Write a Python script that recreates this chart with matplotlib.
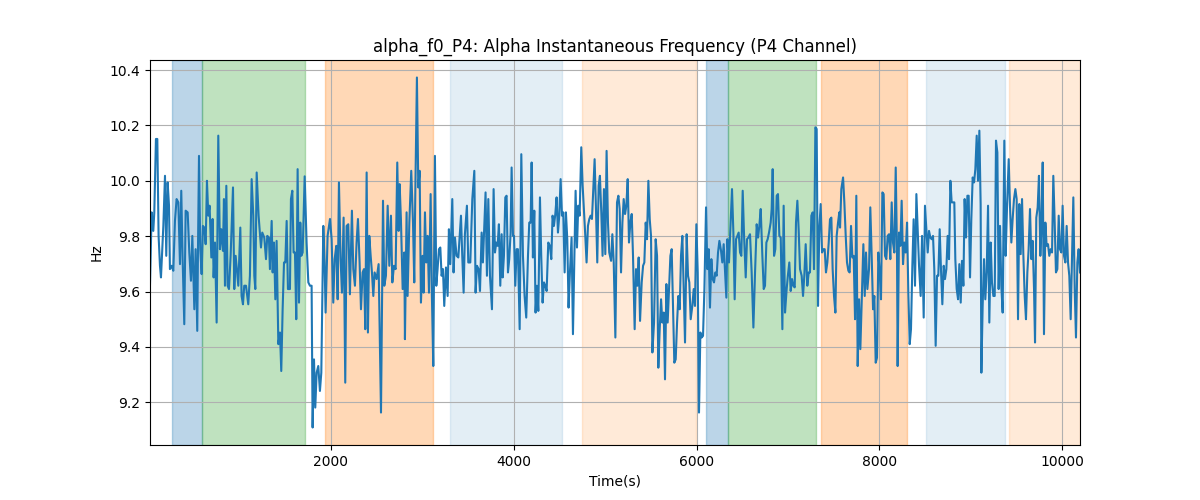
import matplotlib
matplotlib.use("Agg")
import matplotlib.pyplot as plt

# Data (time in seconds, frequency in Hz)
time_s = [20, 38, 56, 67, 85, 100, 114, 129, 140, 166, 184, 198, 213, 228, 238, 257, 275, 293, 311, 330,
          348, 362, 377, 395, 410, 432, 450, 468, 483, 505, 519, 537, 545, 556, 570, 585, 599, 614, 629, 643,
          658, 672, 691, 705, 716, 731, 749, 767, 785, 800, 818, 829, 840, 855, 869, 884, 902, 928, 942, 957,
          986, 1008, 1022, 1037, 1051, 1070, 1095, 1113, 1132, 1150, 1161, 1172, 1187, 1208, 1234, 1248, 1270,
          1289, 1303, 1321, 1332, 1351, 1362, 1376, 1391, 1405, 1424, 1442, 1456, 1471, 1486, 1500, 1515, 1529,
          1551, 1562, 1577, 1591, 1606, 1620, 1635, 1650, 1664, 1675, 1690, 1712, 1733, 1752, 1770, 1788, 1799,
          1814, 1828, 1843, 1861, 1879, 1894, 1916, 1930, 1941, 1963, 1989, 2007, 2025, 2040, 2058, 2073, 2087,
          2105, 2120, 2138, 2156, 2171, 2189, 2207, 2229, 2244, 2262, 2280, 2295, 2313, 2328, 2346, 2361, 2375,
          2390, 2404, 2419, 2434, 2448, 2463, 2477, 2499, 2521,
          2547, 2569, 2583, 2601, 2620, 2638, 2656, 2671, 2689, 2707, 2725, 2740, 2751, 2765, 2784, 2802, 2809,
          2827, 2838, 2857, 2878, 2897, 2911, 2922, 2940, 2955, 2970, 2984, 3002, 3013, 3028, 3042, 3057, 3072,
          3090, 3104, 3119, 3137, 3152, 3166, 3181, 3196, 3210, 3225, 3239, 3258, 3276, 3290, 3305, 3327, 3341,
          3356, 3374, 3393, 3422, 3436, 3451, 3465, 3487, 3502, 3524, 3546, 3568, 3582, 3597, 3615, 3630, 3648,
          3662, 3677, 3691, 3706, 3721, 3739, 3761, 3779,
          3794, 3808, 3823, 3837, 3852, 3867, 3878, 3892, 3907, 3921, 3936, 3950, 3965, 3976, 3991, 4002, 4016,
          4031, 4045, 4064, 4082, 4100, 4118, 4136, 4155, 4169, 4184, 4195, 4209, 4224, 4238, 4253, 4268, 4286,
          4300, 4315, 4330, 4344, 4359, 4377, 4395, 4410, 4424, 4439, 4454, 4468, 4483, 4497, 4512, 4527, 4541,
          4556, 4570, 4585, 4599, 4614, 4632, 4647, 4661, 4676, 4691, 4705, 4720, 4738, 4753, 4767, 4782, 4796,
          4811, 4826, 4840, 4855, 4869, 4884, 4898, 4913, 4928, 4942, 4957, 4971, 4986, 5001, 5015, 5030, 5044,
          5064, 5078, 5093, 5111, 5129, 5144, 5158, 5173, 5188, 5202, 5217, 5231, 5246, 5260, 5275, 5290, 5304,
          5322, 5337, 5352, 5366, 5381, 5399, 5414, 5428, 5443, 5457, 5472, 5487, 5501, 5516, 5534, 5552, 5567,
          5581, 5596, 5611, 5625, 5640, 5654, 5669, 5683, 5698, 5713, 5727, 5742, 5756, 5771, 5786, 5800, 5815,
          5829, 5844, 5858, 5873, 5891, 5906, 5920, 5935, 5953, 5968, 5982, 5997, 6012, 6026, 6041, 6055, 6070,
          6085, 6103, 6117, 6132, 6146, 6161, 6176, 6190, 6205, 6219, 6234, 6249, 6267, 6281, 6296,
          6311, 6325, 6336, 6354, 6373, 6387, 6402, 6416, 6431, 6446, 6460, 6475, 6489, 6504, 6519, 6537, 6551,
          6566, 6584, 6602, 6621, 6639, 6657, 6672, 6686, 6701, 6719, 6734, 6748, 6763, 6777, 6792, 6810, 6821,
          6832, 6847, 6861, 6876, 6890, 6905, 6920, 6938, 6952, 6967, 6985, 6998, 7014, 7029, 7044, 7058, 7073,
          7087, 7102, 7116, 7131, 7149, 7164, 7178, 7193, 7211, 7226, 7240, 7255, 7270, 7284, 7299, 7313, 7328,
          7342, 7357, 7372, 7386, 7401, 7415, 7430, 7445, 7459, 7474, 7488, 7503, 7518, 7532, 7547, 7561,
          7569, 7583, 7602, 7616, 7631, 7645, 7660, 7674, 7689, 7704, 7718, 7733, 7747, 7762, 7777, 7791, 7806,
          7824, 7839, 7853, 7868, 7886, 7900, 7915, 7930, 7944, 7959, 7973, 7988, 8003, 8017, 8032, 8046, 8061,
          8075, 8090, 8105, 8119, 8134, 8148, 8163, 8178, 8192, 8199, 8214, 8229, 8243, 8258, 8272, 8287, 8302,
          8316, 8331, 8345, 8360, 8374, 8389, 8404, 8418, 8433, 8451, 8466, 8484, 8498, 8513, 8528, 8542, 8557,
          8571, 8586, 8600, 8615, 8630, 8644, 8659, 8673, 8688, 8703, 8717, 8732, 8746, 8761, 8776, 8790, 8805,
          8819, 8830, 8845, 8860, 8874, 8889, 8903, 8918, 8932, 8947, 8962, 8976, 8991, 9005, 9020, 9035, 9049,
          9064, 9078, 9093, 9107, 9115, 9129, 9144, 9158, 9173, 9188, 9202, 9217, 9231, 9246, 9261, 9275, 9290,
          9304, 9319, 9333, 9348, 9366, 9381, 9395, 9414, 9428, 9443, 9457, 9472, 9487, 9501, 9516, 9530, 9545,
          9560, 9574, 9589, 9603, 9618, 9632, 9647, 9662, 9676, 9691, 9702, 9716, 9731, 9745, 9760, 9771, 9786,
          9800, 9815, 9829, 9844, 9858, 9873, 9888, 9902, 9917, 9931, 9946, 9961, 9975, 9990, 10004, 10019, 10034,
          10048, 10063, 10077, 10092, 10106, 10121, 10136, 10150, 10165, 10179, 10194]

freq_hz = [9.627, 9.886, 9.819, 9.886, 10.151, 10.151, 9.801, 9.693, 9.651, 9.837, 10.018, 9.729, 9.994, 9.910,
           9.681, 9.693, 9.675, 9.855, 9.934, 9.922, 9.699, 9.964, 9.717, 9.482, 9.892, 9.886, 9.741, 9.639,
           9.801, 9.536, 9.753, 9.458, 9.753, 10.090, 9.753, 9.663, 9.837, 9.831, 9.771, 10.0, 9.874, 9.910,
           9.723, 9.862, 9.651, 9.777, 9.488, 10.163, 9.753, 9.825, 9.747, 9.934, 9.621, 9.982, 9.621, 9.609,
           9.729, 9.976, 9.609, 9.729, 9.621, 9.831, 9.584, 9.554, 9.621, 9.621, 9.554, 9.657, 10.006, 9.874,
           9.657, 9.609, 10.030, 9.874, 9.759, 9.813, 9.795,
           9.717, 9.801, 9.795, 9.681, 9.855, 9.669, 9.777, 9.572, 9.783, 9.410, 9.452, 9.313, 9.536, 9.705,
           9.705, 9.855, 9.609, 9.609, 9.934, 9.964, 9.741, 9.741, 9.500, 10.042, 9.560, 9.849, 9.729, 9.741,
           10.016, 9.777, 9.633, 9.621, 9.621, 9.109, 9.355, 9.181, 9.307, 9.331, 9.241, 9.307, 9.837, 9.705,
           9.524, 9.801, 9.862, 9.789, 9.560, 9.717, 9.765, 9.572, 9.994, 9.717, 9.596, 9.867, 9.271, 9.837,
           9.843, 9.590, 9.892, 9.681, 9.621, 9.777, 9.862, 9.705, 9.536, 9.669, 9.681, 9.464, 10.030, 9.452,
           9.801, 9.729, 9.669, 9.584, 9.669, 9.645, 9.699,
           9.163, 9.928, 9.621, 9.657, 9.910, 9.693, 9.874, 9.633, 9.693, 9.681, 10.066, 9.819, 9.988, 9.861,
           9.609, 9.741, 9.428, 9.886, 9.584, 9.849, 10.036, 9.849, 9.633, 9.946, 10.373, 9.976, 10.036, 9.560,
           9.729, 9.596, 9.886, 9.705, 9.801, 9.596, 9.952, 9.584, 9.331, 10.090, 9.621, 9.681, 9.753, 9.759,
           9.657, 9.681, 9.548, 9.687, 9.584, 9.825, 9.699, 9.934, 9.669, 9.795, 9.729, 9.723, 9.874, 9.729,
           9.596, 9.807, 9.910, 9.705, 9.705, 9.934, 10.036, 9.596, 9.693, 9.681, 9.602, 9.813, 9.705, 9.831,
           9.958, 9.657, 9.934, 9.657, 9.536, 9.970,
           9.741, 9.777, 9.765, 9.843, 9.621, 9.807, 9.651, 9.729, 9.940, 9.946, 9.669, 9.717, 9.813, 10.048,
           9.801, 9.801, 9.621, 9.753, 9.753, 9.464, 10.096, 9.729, 9.584, 9.506, 9.729, 9.849, 9.849, 10.066,
           9.723, 9.892, 9.524, 9.621, 9.530, 9.940, 9.729, 9.560, 9.633, 9.621, 9.602, 9.777, 9.765, 9.717,
           9.874, 9.837, 9.880, 9.940, 9.813, 9.874, 10.006, 9.874, 9.886, 9.669, 9.886, 9.789, 9.542, 9.669,
           9.795, 9.446, 9.705, 9.964, 9.759, 9.910, 9.874, 10.121, 9.982, 9.898, 9.801, 9.705, 9.837, 9.862,
           9.874, 9.862, 9.970, 10.078, 9.910, 9.705, 9.982, 10.018, 9.886, 9.729, 9.970, 9.735, 10.108, 9.849,
           9.741,
           9.711, 9.807, 9.705, 9.434, 9.922, 9.946, 9.898, 9.669, 9.849, 9.934, 9.880, 9.910, 10.006, 9.777,
           9.849, 9.880, 9.729, 9.464, 9.681, 9.621, 9.723, 9.494, 9.633, 9.693, 9.705, 9.849, 9.789, 10.0,
           9.861, 9.801, 9.380, 9.488, 9.789, 9.729, 9.325, 9.464, 9.572, 9.488, 9.524, 9.283, 9.627, 9.488,
           9.609, 9.729, 9.753, 9.548, 9.343, 9.355, 9.488, 9.584, 9.536, 9.729, 9.801, 9.609, 9.416, 9.807,
           9.657, 9.633, 9.500, 9.548, 9.609, 9.548, 9.843, 9.669, 9.163, 9.452, 9.434, 9.440, 9.609, 9.904,
           9.681, 9.753, 9.542, 9.717, 9.645, 9.633, 9.669, 9.657, 9.741, 9.783, 9.747, 9.705, 9.771,
           9.669, 9.578, 9.789, 9.705, 9.861, 9.970, 9.813, 9.572, 9.789, 9.801, 9.813, 9.741, 9.729, 9.964,
           9.801, 9.651, 9.789, 9.795, 9.807, 9.669, 9.470, 9.669, 9.843, 9.795, 9.837, 9.898, 9.729, 9.609,
           9.621, 9.777, 9.789, 9.813, 9.849, 9.898, 10.042, 9.729, 9.753, 9.946, 9.952, 9.801, 9.795, 9.464,
           9.910, 9.524, 9.609, 9.657, 9.705, 9.602, 9.645, 9.621, 9.615, 9.849, 9.928, 9.825, 9.681, 9.657,
           9.584, 9.657, 9.771, 9.621, 9.669, 9.669, 9.874, 9.886, 9.681, 10.193, 10.187, 9.548, 9.825, 9.916,
           9.741, 9.753, 9.753, 9.669, 9.705, 9.777, 9.861, 9.867, 9.681, 9.584, 9.524, 9.801, 9.849, 9.886,
           9.831, 9.970, 10.012, 9.922, 9.801, 9.705, 9.675, 9.669, 9.837, 9.723, 9.729, 9.500, 9.946, 9.331,
           9.572, 9.392, 9.560, 9.771, 9.584, 9.741, 9.609, 9.681, 9.904, 9.729, 9.536, 9.584, 9.343, 9.361,
           9.741, 9.669, 9.572, 9.958, 9.952, 9.729, 9.717, 9.801, 9.807, 9.717, 9.922, 9.777, 9.741, 10.048,
           9.741, 9.331, 9.813, 9.765, 9.928, 9.699, 9.777, 9.741, 9.849, 9.596, 9.410, 9.464, 9.693, 9.861,
           9.621, 9.952, 9.825, 9.693, 9.584, 9.801, 9.506, 9.910, 9.825, 9.741, 9.819, 9.795, 9.789, 9.801,
           9.681, 9.404, 9.657, 9.657, 9.825, 9.681, 9.554, 9.693, 9.645, 9.681, 9.801, 9.717, 10.0, 9.922,
           9.922, 9.922,
           9.717, 9.609, 9.572, 9.699, 9.560, 9.711, 9.621, 9.934, 9.795, 9.946, 9.946, 9.651, 9.861, 10.012,
           9.994, 10.042, 10.163, 10.0, 10.181, 9.916, 9.307, 9.548, 9.717, 9.572, 9.669, 9.910, 9.488, 9.777,
           9.633, 9.584, 9.584, 10.145, 10.102, 9.609, 9.837, 9.621, 9.524, 10.145, 9.729, 9.898, 10.078, 9.910,
           9.777, 9.861, 9.934, 9.970, 9.934, 9.500, 9.916, 9.735, 9.934, 9.735, 9.584, 9.500, 9.669, 9.753,
           9.898, 9.717, 9.783, 9.609, 9.416, 9.867, 9.904, 10.018, 9.729, 9.825, 10.066, 9.446, 9.849, 9.765,
           9.771, 9.729, 9.753, 9.741, 10.018, 9.849, 9.669, 9.681, 9.874, 9.753, 9.741, 9.910, 9.729, 9.705,
           9.837, 9.705, 9.657, 9.500, 9.705, 9.940, 9.609, 9.434, 9.705, 9.753, 9.669]

# shaded segments: start, end, colour, alpha
seg_start = [261, 586, 1934, 3305, 4746, 6102, 6346, 7360, 8509, 9417]
seg_end = [586, 1712, 3113, 4524, 5996, 6346, 7306, 8298, 9373, 10194]
seg_color = ["C0", "C2", "C1", "C0", "C1", "C0", "C2", "C1", "C0", "C1"]
seg_alpha = [0.3, 0.3, 0.3, 0.12, 0.16, 0.3, 0.3, 0.3, 0.12, 0.16]

fig = plt.figure(figsize=(12, 5))
for s, e, c, a in zip(seg_start, seg_end, seg_color, seg_alpha):
    plt.axvspan(s, e, color=c, alpha=a)
plt.plot(time_s, freq_hz)

plt.xlim(time_s[0], time_s[-1])
plt.xlabel("Time(s)")
plt.ylabel("Hz")
plt.title("alpha_f0_P4: Alpha Instantaneous Frequency (P4 Channel)")
plt.grid(True)
plt.savefig("out.png")
